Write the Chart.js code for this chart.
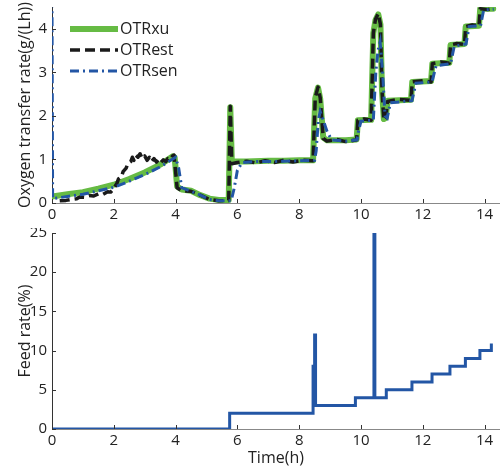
<!DOCTYPE html>
<html>
<head>
<meta charset="utf-8">
<script src="https://cdn.jsdelivr.net/npm/chart.js@4.4.1/dist/chart.umd.min.js"></script>
<style>
  html, body { margin: 0; padding: 0; background: #ffffff; }
  #wrap { position: relative; width: 500px; height: 470px; overflow: hidden; }
  #top { position: absolute; left: 0; top: 0; }
  #bot { position: absolute; left: 0; top: 228px; }
</style>
</head>
<body>
<div id="wrap">
  <canvas id="top" width="500" height="228"></canvas>
  <canvas id="bot" width="500" height="242"></canvas>
</div>
<script>
// ---------- DATA ----------
const seriesNames = ["OTRxu", "OTRest", "OTRsen"];
const xTicks = [0, 2, 4, 6, 8, 10, 12, 14];
const otrTicks = [0, 1, 2, 3, 4];
const feedTicks = [0, 5, 10, 15, 20, 25];

// OTRxu (green)
const xuTime = [0, 0.5, 1.0, 1.5, 2.0, 2.5, 3.0, 3.5, 3.9, 3.97, 4.05, 4.2, 4.5, 4.8, 5.1, 5.4, 5.72, 5.77, 5.82, 6.3, 7.0, 7.5, 8.0, 8.45, 8.52, 8.61, 8.68, 8.78, 8.9, 9.5, 9.86, 9.9, 10.33, 10.4, 10.47, 10.56, 10.63, 10.68, 10.74, 10.8, 10.86, 11.62, 11.66, 12.27, 12.31, 12.86, 12.9, 13.35, 13.39, 13.82, 13.86, 14.28];
const xuOtr  = [0.15, 0.2, 0.25, 0.33, 0.42, 0.55, 0.7, 0.88, 1.07, 1.05, 0.38, 0.31, 0.28, 0.18, 0.1, 0.07, 0.07, 2.2, 0.95, 0.95, 0.97, 0.97, 0.98, 0.98, 2.4, 2.65, 2.4, 1.5, 1.44, 1.44, 1.46, 1.9, 1.91, 3.9, 4.2, 4.33, 4.1, 2.6, 1.93, 1.95, 2.35, 2.37, 2.78, 2.8, 3.2, 3.22, 3.63, 3.65, 4.05, 4.07, 4.46, 4.46];

// OTRest (black dashed)
const estTime = [0.25, 0.45, 0.6, 0.8, 0.9, 1.05, 1.2, 1.35, 1.5, 1.65, 1.8, 1.9, 2.0, 2.1, 2.15, 2.25, 2.3, 2.4, 2.45, 2.55, 2.6, 2.65, 2.7, 2.78, 2.85, 2.92, 3.0, 3.08, 3.15, 3.22, 3.3, 3.38, 3.45, 3.52, 3.6, 3.68, 3.75, 3.82, 3.9, 3.95, 4.05, 4.2, 4.5, 4.8, 5.1, 5.4, 5.72, 5.77, 5.82, 6.0, 6.3, 6.6, 6.9, 7.2, 7.5, 7.8, 8.1, 8.45, 8.52, 8.61, 8.68, 8.78, 8.9, 9.2, 9.5, 9.86, 9.9, 10.1, 10.33, 10.4, 10.47, 10.56, 10.63, 10.68, 10.74, 10.8, 10.86, 11.2, 11.62, 11.66, 12.0, 12.27, 12.31, 12.6, 12.86, 12.9, 13.1, 13.35, 13.39, 13.6, 13.82, 13.86, 14.1, 14.28];
const estOtr  = [0.05, 0.06, 0.08, 0.1, 0.14, 0.13, 0.17, 0.16, 0.21, 0.2, 0.26, 0.25, 0.33, 0.45, 0.55, 0.6, 0.72, 0.8, 0.9, 0.95, 1.05, 0.98, 1.1, 1.05, 1.13, 1.02, 1.08, 0.98, 1.05, 0.95, 1.02, 0.94, 1.0, 0.93, 0.99, 0.95, 1.02, 1.0, 1.08, 1.1, 0.35, 0.28, 0.27, 0.18, 0.08, 0.05, 0.06, 2.22, 0.9, 0.93, 0.96, 0.92, 0.97, 0.93, 0.98, 0.94, 0.98, 0.97, 2.42, 2.66, 2.42, 1.48, 1.42, 1.46, 1.41, 1.45, 1.9, 1.93, 1.9, 3.9, 4.22, 4.35, 4.1, 2.6, 1.9, 1.95, 2.33, 2.38, 2.36, 2.78, 2.81, 2.78, 3.2, 3.24, 3.21, 3.63, 3.66, 3.64, 4.05, 4.09, 4.06, 4.46, 4.44, 4.46];

// OTRsen (blue dash-dot)
const senTime = [0, 0.02, 0.5, 1.0, 1.5, 2.0, 2.5, 3.0, 3.5, 4.0, 4.1, 4.2, 4.5, 4.8, 5.1, 5.4, 5.8, 5.9, 6.0, 6.15, 6.5, 7.0, 7.5, 8.0, 8.5, 8.55, 8.62, 8.68, 8.78, 8.9, 9.05, 9.5, 9.87, 9.92, 10.0, 10.4, 10.48, 10.55, 10.62, 10.7, 10.78, 10.85, 10.95, 11.65, 11.78, 12.3, 12.43, 12.9, 13.02, 13.4, 13.5, 13.87, 13.97, 14.3];
const senOtr  = [4.7, 0.1, 0.15, 0.2, 0.28, 0.36, 0.5, 0.65, 0.83, 1.05, 0.8, 0.35, 0.27, 0.18, 0.08, 0.05, 0.05, 0.35, 0.75, 0.93, 0.95, 0.95, 0.96, 0.97, 0.98, 1.2, 1.9, 2.1, 1.9, 1.65, 1.45, 1.42, 1.45, 1.65, 1.88, 1.9, 3.0, 3.5, 3.7, 3.0, 2.0, 1.95, 2.3, 2.35, 2.75, 2.78, 3.15, 3.2, 3.6, 3.65, 4.05, 4.07, 4.43, 4.45];

// Feed rate (%)
const feedTime = [0, 5.75, 5.75, 8.45, 8.45, 8.5, 8.5, 8.53, 8.53, 9.82, 9.82, 10.42, 10.42, 10.45, 10.45, 10.82, 10.82, 11.65, 11.65, 12.3, 12.3, 12.88, 12.88, 13.38, 13.38, 13.85, 13.85, 14.22, 14.22];
const feedRate = [0, 0, 2, 2, 8, 8, 12, 12, 3, 3, 4, 4, 25, 25, 4, 4, 5, 5, 6, 6, 7, 7, 8, 8, 9, 9, 10, 10, 10.9];

// ---------- helpers ----------
const pts = (xs, ys) => xs.map((x, i) => ({ x: x, y: ys[i] }));
Chart.defaults.font.family = "'Open Sans', sans-serif";
Chart.defaults.color = '#222';

const GREEN = '#66bb44', BLACK = '#1a1a1a', BLUE = '#2356a5';

const inwardTicks = {
  id: 'inwardTicks',
  afterDraw(chart) {
    const ctx = chart.ctx, xs = chart.scales.x, ys = chart.scales.y, a = chart.chartArea;
    ctx.save();
    ctx.strokeStyle = '#333';
    ctx.lineWidth = 1;
    ctx.beginPath();
    xs.ticks.forEach(t => {
      const px = Math.round(xs.getPixelForValue(t.value)) + 0.5;
      ctx.moveTo(px, a.bottom); ctx.lineTo(px, a.bottom - 4);
    });
    ys.ticks.forEach(t => {
      const py = Math.round(ys.getPixelForValue(t.value)) + 0.5;
      ctx.moveTo(a.left, py); ctx.lineTo(a.left + 4, py);
    });
    ctx.stroke();
    ctx.restore();
  }
};

const legendInside = {
  id: 'legendInside',
  afterDraw(chart) {
    const ctx = chart.ctx;
    const rows = [29, 50, 71];
    ctx.save();
    ctx.font = "16px 'Open Sans', sans-serif";
    ctx.textBaseline = 'middle';
    ctx.textAlign = 'left';
    chart.data.datasets.forEach((ds, i) => {
      const y = rows[i];
      ctx.beginPath();
      ctx.strokeStyle = ds.borderColor;
      ctx.lineWidth = ds.borderWidth;
      ctx.setLineDash(ds.borderDash || []);
      ctx.lineCap = 'butt';
      ctx.moveTo(70, y); ctx.lineTo(118, y);
      ctx.stroke();
      ctx.setLineDash([]);
      ctx.fillStyle = '#222';
      ctx.fillText(ds.label, 120, y);
    });
    ctx.restore();
  }
};

function fixY(w) { return s => { s.width = w; s.paddingTop = 0; s.paddingBottom = 0; }; }
function fixX(h) { return s => { s.height = h; s.paddingLeft = 0; s.paddingRight = 0; }; }

const xScale = (h, withTitle) => ({
  type: 'linear', min: 0, max: 14.5,
  afterFit: fixX(h),
  afterBuildTicks: s => { s.ticks = xTicks.map(v => ({ value: v })); },
  grid: { display: false, drawTicks: false },
  border: { display: true, color: '#888', width: 1 },
  ticks: { font: { size: 15 }, color: '#222', padding: 3, maxRotation: 0, includeBounds: false },
  title: withTitle ? { display: true, text: 'Time(h)', font: { size: 16 }, color: '#222', padding: { top: 0, bottom: 2 } } : { display: false }
});

// ---------- top chart ----------
new Chart(document.getElementById('top'), {
  type: 'line',
  data: {
    datasets: [
      { label: seriesNames[0], data: pts(xuTime, xuOtr), borderColor: GREEN, borderWidth: 6, borderJoinStyle: 'round', borderCapStyle: 'round', order: 3 },
      { label: seriesNames[1], data: pts(estTime, estOtr), borderColor: BLACK, borderWidth: 3.5, borderDash: [10, 5], borderJoinStyle: 'round', order: 2 },
      { label: seriesNames[2], data: pts(senTime, senOtr), borderColor: BLUE, borderWidth: 3, borderDash: [9, 4, 2, 4], order: 1 }
    ]
  },
  options: {
    responsive: false, animation: false, devicePixelRatio: 1,
    layout: { padding: { top: 7, right: 0, bottom: 0, left: 0 } },
    elements: { point: { radius: 0 }, line: { tension: 0, fill: false } },
    plugins: { legend: { display: false }, tooltip: { enabled: false } },
    scales: {
      x: xScale(25, false),
      y: {
        type: 'linear', min: 0, max: 4.5,
        afterFit: fixY(52),
        afterBuildTicks: s => { s.ticks = otrTicks.map(v => ({ value: v })); },
        grid: { display: false, drawTicks: false },
        border: { display: true, color: '#333', width: 1 },
        ticks: { font: { size: 15 }, color: '#222', padding: 5 },
        title: { display: true, text: 'Oxygen transfer rate(g/(Lh))', font: { size: 16 }, color: '#222', padding: { top: 16, bottom: 0 } }
      }
    }
  },
  plugins: [inwardTicks, legendInside]
});

// ---------- bottom chart ----------
new Chart(document.getElementById('bot'), {
  type: 'line',
  data: {
    datasets: [
      { label: 'Feed rate', data: pts(feedTime, feedRate), borderColor: BLUE, borderWidth: 3, borderJoinStyle: 'miter' }
    ]
  },
  options: {
    responsive: false, animation: false, devicePixelRatio: 1,
    layout: { padding: { top: 5, right: 0, bottom: 0, left: 0 } },
    elements: { point: { radius: 0 }, line: { tension: 0, fill: false } },
    plugins: { legend: { display: false }, tooltip: { enabled: false } },
    scales: {
      x: xScale(41, true),
      y: {
        type: 'linear', min: 0, max: 25,
        afterFit: fixY(52),
        afterBuildTicks: s => { s.ticks = feedTicks.map(v => ({ value: v })); },
        grid: { display: false, drawTicks: false },
        border: { display: true, color: '#333', width: 1 },
        ticks: { font: { size: 15 }, color: '#222', padding: 5 },
        title: { display: true, text: 'Feed rate(%)', font: { size: 16 }, color: '#222', padding: { top: 16, bottom: 0 } }
      }
    }
  },
  plugins: [inwardTicks]
});
</script>
</body>
</html>
